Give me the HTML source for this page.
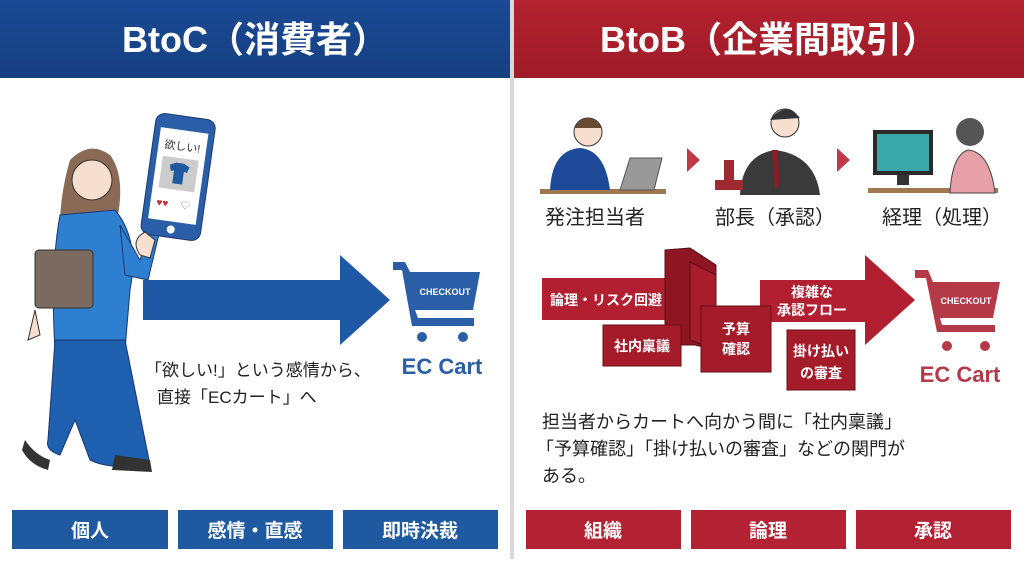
<!DOCTYPE html>
<html><head><meta charset="utf-8"><style>
body{margin:0;width:1024px;height:559px;overflow:hidden;background:#fff;font-family:"Liberation Sans","Noto Sans CJK JP",sans-serif}
svg text{font-family:"Liberation Sans","Noto Sans CJK JP",sans-serif}
</style></head><body>
<svg width="1024" height="559" viewBox="0 0 1024 559" xmlns="http://www.w3.org/2000/svg">
<defs>
<linearGradient id="bh" x1="0" y1="0" x2="0" y2="1"><stop offset="0" stop-color="#1a4a95"/><stop offset="1" stop-color="#163f80"/></linearGradient>
<linearGradient id="rh" x1="0" y1="0" x2="0" y2="1"><stop offset="0" stop-color="#b3222f"/><stop offset="1" stop-color="#9e1b28"/></linearGradient>
</defs>
<rect x="0" y="0" width="510" height="78" fill="url(#bh)"/>
<rect x="514" y="0" width="510" height="78" fill="url(#rh)"/>
<rect x="510" y="0" width="4" height="559" fill="#d8d8d8"/>
<text x="255" y="52" text-anchor="middle" font-size="36" font-weight="bold" fill="#fff">BtoC（消費者）</text>
<text x="769" y="52" text-anchor="middle" font-size="36" font-weight="bold" fill="#fff">BtoB（企業間取引）</text>

<!-- left person -->
<path d="M70 160 Q90 140 110 155 Q125 175 118 215 L112 245 L60 245 Q58 200 70 160Z" fill="#8a6a55"/>
<circle cx="92" cy="180" r="20" fill="#f6dfcf" stroke="#333" stroke-width="1"/>
<path d="M60 215 L115 210 Q140 240 130 290 L125 350 L55 350 Q50 270 60 215Z" fill="#2f7fd0" stroke="#1a3a70"/>
<path d="M120 225 L140 260 L150 230 L160 230 L148 280 L125 275Z" fill="#2f7fd0" stroke="#1a3a70"/>
<rect x="35" y="250" width="58" height="58" rx="4" fill="#7b6a60" stroke="#333"/>
<path d="M55 340 L125 340 L150 465 Q110 470 90 460 L75 420 L60 455 Q45 450 48 440Z" fill="#1f5fb0" stroke="#1a3a70"/>
<path d="M25 440 Q35 455 50 460 L48 470 Q30 465 22 450Z" fill="#333"/>
<path d="M115 455 L150 460 L152 472 L112 470Z" fill="#333"/>
<path d="M35 310 L28 340 L40 335Z" fill="#f6dfcf" stroke="#333"/>
<!-- phone -->
<g transform="rotate(8 178 178)">
<rect x="148" y="116" width="60" height="122" rx="9" fill="#2a5fa8" stroke="#1a3a70"/>
<rect x="154" y="130" width="48" height="92" fill="#fff"/>
<circle cx="178" cy="230" r="4" fill="#fff"/>
<text x="178" y="150" text-anchor="middle" font-size="11" fill="#333">欲しい!</text>
<rect x="160" y="158" width="36" height="32" fill="#ccc"/>
<path d="M168 166 L174 163 L182 163 L188 166 L186 172 L183 171 L183 184 L173 184 L173 171 L170 172Z" fill="#1f5aa0"/>
<text x="160" y="208" font-size="10" fill="#c0303b">♥♥</text><text x="184" y="208" font-size="10" fill="#999">♡</text>
</g>
<path d="M140 255 Q130 240 145 232 L155 240 L150 258Z" fill="#f6dfcf" stroke="#333"/>
<!-- blue arrow -->
<path d="M143 280 L340 280 L340 255 L390 300 L340 345 L340 320 L143 320Z" fill="#1f58a5"/>
<!-- blue cart -->
<g fill="#2a5ea6">
<path d="M393 262 L405 262 L410 272 L480 272 L473 310 L415 310 L418 318 L474 318 L474 326 L412 326 L402 270 L393 270Z"/>
<circle cx="422" cy="337" r="5"/><circle cx="463" cy="337" r="5"/>
</g>
<text x="445" y="295" text-anchor="middle" font-size="9" font-weight="bold" fill="#fff">CHECKOUT</text>
<text x="442" y="374" text-anchor="middle" font-size="22" font-weight="bold" fill="#2a5ea6">EC Cart</text>
<text x="145" y="376" font-size="17" fill="#222">「欲しい!」という感情から、</text>
<text x="157" y="403" font-size="17" fill="#222">直接「ECカート」へ</text>

<!-- right people -->
<rect x="540" y="189" width="126" height="5" fill="#a07850"/>
<path d="M550 190 Q552 150 580 148 Q605 150 610 190Z" fill="#1f4a9a"/>
<circle cx="588" cy="132" r="14" fill="#f6dfcf" stroke="#333"/>
<path d="M574 128 Q588 108 602 128" fill="#6a4a30"/>
<path d="M620 190 L630 158 L662 158 L654 190Z" fill="#999" stroke="#555"/>
<path d="M687 148 L700 160 L687 172Z" fill="#c23a48"/>
<path d="M740 195 Q742 155 775 150 Q815 155 820 195Z" fill="#3a3a3a"/>
<path d="M772 150 L778 150 L779 185 L775 190Z" fill="#8b1c25"/>
<circle cx="785" cy="123" r="14" fill="#f6dfcf" stroke="#333"/>
<path d="M770 120 Q785 100 800 118" fill="#333"/>
<rect x="715" y="180" width="28" height="10" fill="#9e2a30"/>
<rect x="724" y="160" width="10" height="22" fill="#9e2a30"/>
<path d="M837 148 L850 160 L837 172Z" fill="#c23a48"/>
<rect x="873" y="130" width="60" height="45" fill="#2a2a2a"/><rect x="877" y="134" width="52" height="37" fill="#3aa8a8"/>
<rect x="897" y="175" width="12" height="10" fill="#333"/>
<rect x="868" y="188" width="130" height="5" fill="#a07850"/>
<path d="M950 193 Q952 155 968 150 Q990 152 995 193Z" fill="#e8a0a8" stroke="#444"/>
<circle cx="970" cy="132" r="14" fill="#555"/>
<text x="595" y="224" text-anchor="middle" font-size="20" fill="#222">発注担当者</text>
<text x="775" y="224" text-anchor="middle" font-size="20" fill="#222">部長（承認）</text>
<text x="942" y="224" text-anchor="middle" font-size="20" fill="#222">経理（処理）</text>

<!-- red flow -->
<path d="M542 278 L665 278 L665 320 L542 320Z" fill="#b21f30"/>
<path d="M760 280 L865 280 L865 255 L915 300 L865 345 L865 322 L760 322Z" fill="#b21f30"/>
<path d="M665 250 L690 248 L716 265 L716 350 L695 345 L665 345Z" fill="#8e1622" stroke="#5a0e14"/>
<path d="M690 262 L716 275 L716 350 L690 340Z" fill="#a81c2c" stroke="#5a0e14"/>
<text x="606" y="305" text-anchor="middle" font-size="14" font-weight="bold" fill="#fff">論理・リスク回避</text>
<text x="812" y="297" text-anchor="middle" font-size="14" font-weight="bold" fill="#fff">複雑な</text>
<text x="812" y="315" text-anchor="middle" font-size="14" font-weight="bold" fill="#fff">承認フロー</text>
<rect x="603" y="325" width="78" height="41" fill="#a41c2a" stroke="#6a0e18"/>
<text x="642" y="351" text-anchor="middle" font-size="14" font-weight="bold" fill="#fff">社内稟議</text>
<rect x="701" y="306" width="70" height="66" fill="#a41c2a" stroke="#6a0e18"/>
<text x="736" y="334" text-anchor="middle" font-size="14" font-weight="bold" fill="#fff">予算</text>
<text x="736" y="354" text-anchor="middle" font-size="14" font-weight="bold" fill="#fff">確認</text>
<rect x="787" y="330" width="68" height="60" fill="#a41c2a" stroke="#6a0e18"/>
<text x="821" y="356" text-anchor="middle" font-size="14" font-weight="bold" fill="#fff">掛け払い</text>
<text x="821" y="378" text-anchor="middle" font-size="14" font-weight="bold" fill="#fff">の審査</text>
<g fill="#b53a48">
<path d="M915 270 L928 270 L933 282 L1000 282 L993 318 L940 318 L942 325 L995 325 L995 332 L937 332 L926 278 L915 278Z"/>
<circle cx="947" cy="346" r="5"/><circle cx="985" cy="346" r="5"/>
</g>
<text x="966" y="304" text-anchor="middle" font-size="9" font-weight="bold" fill="#fff">CHECKOUT</text>
<text x="960" y="382" text-anchor="middle" font-size="22" font-weight="bold" fill="#b53a48">EC Cart</text>
<text x="542" y="428" font-size="18" fill="#222">担当者からカートへ向かう間に「社内稟議」</text>
<text x="536" y="455" font-size="18" fill="#222">「予算確認」「掛け払いの審査」などの関門が</text>
<text x="542" y="482" font-size="18" fill="#222">ある。</text>

<!-- bottom -->
<g fill="#1f5aa0"><rect x="12" y="510" width="156" height="39"/><rect x="178" y="510" width="155" height="39"/><rect x="343" y="510" width="155" height="39"/></g>
<g fill="#b32232"><rect x="526" y="510" width="155" height="39"/><rect x="691" y="510" width="155" height="39"/><rect x="856" y="510" width="155" height="39"/></g>
<g font-size="19" font-weight="bold" fill="#fff" text-anchor="middle">
<text x="90" y="537">個人</text><text x="255" y="537">感情・直感</text><text x="420" y="537">即時決裁</text>
<text x="603" y="537">組織</text><text x="768" y="537">論理</text><text x="933" y="537">承認</text>
</g>
</svg>
</body></html>
